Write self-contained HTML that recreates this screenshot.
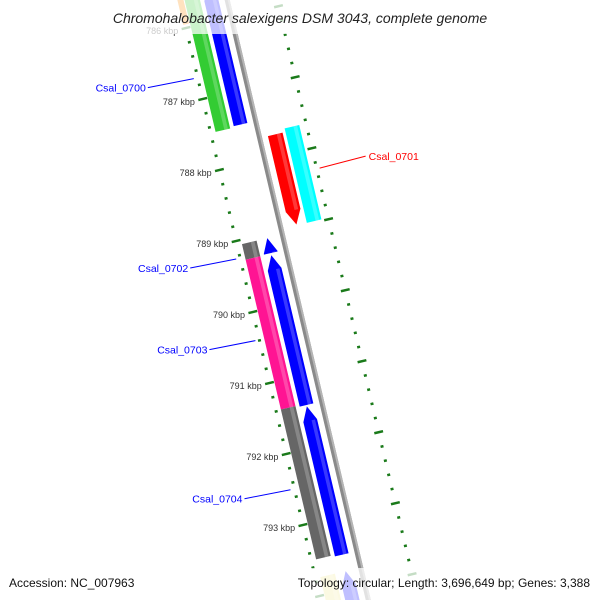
<!DOCTYPE html>
<html><head><meta charset="utf-8"><style>
html,body{margin:0;padding:0;background:#fff;width:600px;height:600px;overflow:hidden}
svg{display:block;overflow:hidden}
text{font-family:"Liberation Sans",sans-serif}
</style></head><body>
<svg id="c" width="600" height="600" viewBox="0 0 600 600" xmlns="http://www.w3.org/2000/svg">
<g id="marks"></g>
<g id="labels"></g>
<rect x="0" y="0" width="600" height="34" fill="#fff" opacity="0.75"/>
<rect x="0" y="568" width="600" height="32" fill="#fff" opacity="0.75"/>
<text x="300" y="23" text-anchor="middle" font-size="14" font-style="italic" fill="#222">Chromohalobacter salexigens DSM 3043, complete genome</text>
<text x="9" y="587" font-size="12" fill="#111">Accession: NC_007963</text>
<text x="590" y="587" font-size="12" fill="#111" text-anchor="end">Topology: circular; Length: 3,696,649 bp; Genes: 3,388</text>
</svg>
<script>
// data
const tickKbp = [786, 787, 788, 789, 790, 791, 792, 793];
const geneStart = [785.5, 787.70, 787.65, 789.06, 789.28, 791.39, 785.5, 789.06, 789.30, 791.43, 793.75, 793.75];
const geneEnd   = [787.48, 788.97, 788.98, 789.28, 791.39, 793.50, 787.46, 789.27, 791.41, 793.52, 794.3, 794.3];
const geneTrack = ["a", "c", "d", "a", "a", "a", "b", "b", "b", "b", "a", "b"];
const geneStrand = [0, 1, 0, 0, 0, 0, -1, -1, -1, -1, 0, -1];
const geneColor = ["#33cc33", "#ff0000", "#00ffff", "#666666", "#ff1493", "#666666", "#0000ff", "#0000ff", "#0000ff", "#0000ff", "#f0e68c", "#0000ff"];
const labelText = ["Csal_0700", "Csal_0701", "Csal_0702", "Csal_0703", "Csal_0704"];
const labelKbp = [786.7, 788.29, 789.24, 790.39, 792.49];
const labelColor = ["#0000ff", "#ff0000", "#0000ff", "#0000ff", "#0000ff"];
const labelSide = [-1, 1, -1, -1, -1];

// axis
const base = {x:186, y:28}, per = {x:16.7, y:71};
const L = Math.hypot(per.x, per.y), nx = per.y / L, ny = -per.x / L;
function P(k, t){ return [base.x + (k-786)*per.x + t*nx, base.y + (k-786)*per.y + t*ny]; }
const tracks = {a:[5,20], b:[24,38], c:[55,70], d:[73,88]};
const NS = "http://www.w3.org/2000/svg";
const marks = document.getElementById('marks'), labs = document.getElementById('labels');
function poly(pts, fill, g){ const p=document.createElementNS(NS,'polygon'); p.setAttribute('points', pts.map(q=>q.join(',')).join(' ')); p.setAttribute('fill', fill); g.appendChild(p); return p; }
function line(a,b,col,w,g){ const l=document.createElementNS(NS,'line'); l.setAttribute('x1',a[0]);l.setAttribute('y1',a[1]);l.setAttribute('x2',b[0]);l.setAttribute('y2',b[1]); l.setAttribute('stroke',col); l.setAttribute('stroke-width',w); g.appendChild(l); return l; }
function txt(p,s,col,size,anchor,g){ const t=document.createElementNS(NS,'text'); t.setAttribute('x',p[0]);t.setAttribute('y',p[1]); t.setAttribute('font-size',size); t.setAttribute('fill',col); t.setAttribute('text-anchor',anchor); t.textContent=s; g.appendChild(t); return t; }

// backbone
let bb = poly([P(785.4,44),P(794.4,44),P(794.4,49),P(785.4,49)], '#8a8a8a', marks);


let bb2 = poly([P(785.4,47),P(794.4,47),P(794.4,49),P(785.4,49)], '#b5b5b5', marks);



// minor / major ticks
for (let k = 785.4; k <= 794.2; k += 0.2) {
  const kk = Math.round(k*10)/10;
  const major = Math.abs(kk - Math.round(kk)) < 0.01;
  [0, 95].forEach(t => {
    const len = major ? 9 : 3;
    const l = line(P(kk, t - len/2), P(kk, t + len/2), '#1a7a1a', 2.5, marks);
    
    
  });
}
tickKbp.forEach(k => {
  const p = P(k, -8);
  const t = txt([p[0], p[1]+4], k + ' kbp', '#333', 9, 'end', labs);
  
  
});

// genes
geneStart.forEach((s, i) => {
  const e = geneEnd[i], [t1, t2] = tracks[geneTrack[i]], tm = (t1+t2)/2, col = geneColor[i];
  const ah = 0.2;
  let pts;
  if (geneStrand[i] === -1) pts = [P(s, tm), P(s+ah, t2), P(e, t2), P(e, t1), P(s+ah, t1)];
  else if (geneStrand[i] === 1) pts = [P(s, t1), P(s, t2), P(e-ah, t2), P(e, tm), P(e-ah, t1)];
  else pts = [P(s, t1), P(s, t2), P(e, t2), P(e, t1)];
  const g = poly(pts, col, marks);
  
  
  const hs = t1 + (t2-t1)*0.6, he = t1 + (t2-t1)*0.85;
  const h = poly([P(s+(geneStrand[i]===-1?ah:0), hs), P(s+(geneStrand[i]===-1?ah:0), he), P(e-(geneStrand[i]===1?ah:0), he), P(e-(geneStrand[i]===1?ah:0), hs)], '#ffffff', marks);
  h.setAttribute('opacity','0.22');
  
  
});
let orange = poly([P(785.5,-2),P(785.5,4),P(785.95,4),P(785.95,-2)], '#ff8c00', marks);



// labels
labelText.forEach((s, i) => {
  const k = labelKbp[i];
  let a, b, anchor;
  if (labelSide[i] < 0) { a = P(k, -4); b = [a[0]-46, a[1]+9]; anchor = 'end'; }
  else { a = P(k, 98); b = [a[0]+46, a[1]-12]; anchor = 'start'; }
  const l = line(a, b, labelColor[i], 1, labs);
  
  
  const t = txt([b[0] + (labelSide[i]<0?-2:3), b[1]+4], s, labelColor[i], 10.5, anchor, labs);
  
  
});
</script>
</body></html>
